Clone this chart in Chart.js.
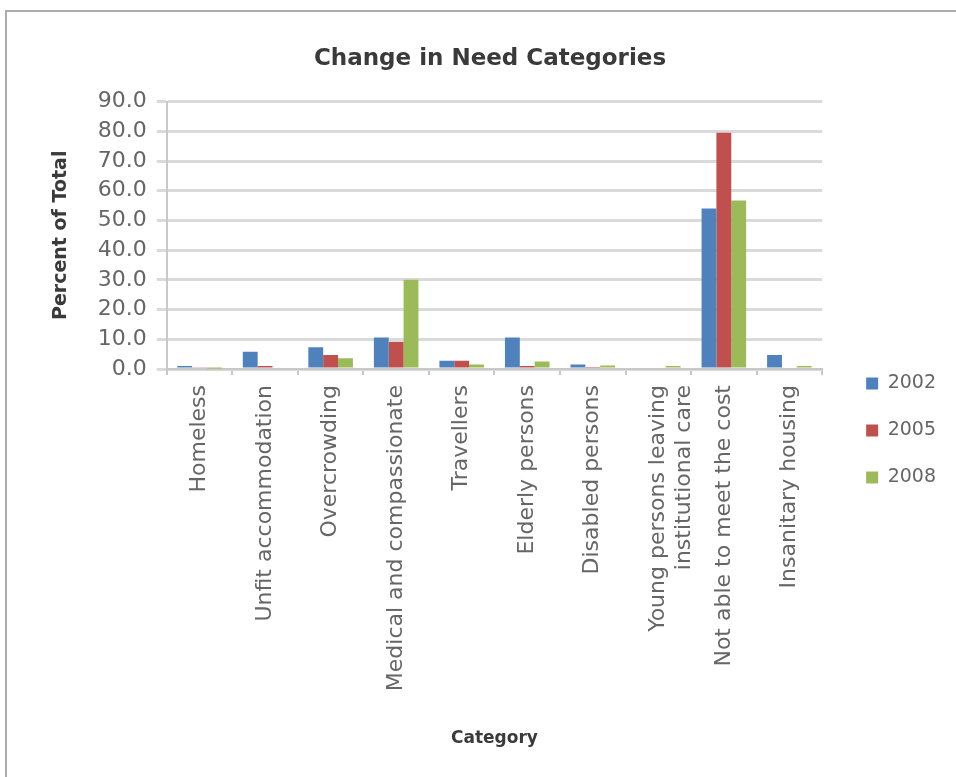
<!DOCTYPE html>
<html>
<head>
<meta charset="utf-8">
<title>Change in Need Categories</title>
<script src="https://cdn.jsdelivr.net/npm/chart.js@4.4.1/dist/chart.umd.min.js"></script>
<style>
    html, body {
        margin: 0;
        padding: 0;
        background: #ffffff;
        overflow: hidden;
    }
    #chartBox {
        position: absolute;
        left: 0;
        top: 0;
        width: 956px;
        height: 777px;
    }
    /* 外框線 */
    .edge {
        position: absolute;
        background: #ababab;
    }
    #edgeTop { left: 5px; top: 10px; width: 951px; height: 2px; }
    #edgeLeft { left: 5px; top: 10px; width: 2px; height: 767px; }
</style>
</head>
<body>
<div id="chartBox"><canvas id="needChart"></canvas></div>
<div class="edge" id="edgeTop"></div>
<div class="edge" id="edgeLeft"></div>
<script>
// 需求類別
const categories = [
    'Homeless',
    'Unfit accommodation',
    'Overcrowding',
    'Medical and compassionate',
    'Travellers',
    'Elderly persons',
    'Disabled persons',
    ['Young persons leaving', 'institutional care'],
    'Not able to meet the cost',
    'Insanitary housing'
];

// 各年度百分比
const years = ['2002', '2005', '2008'];
const values2002 = [1.0, 5.8, 7.3, 10.6, 2.8, 10.6, 1.5, 0.0, 54.0, 4.7];
const values2005 = [0.6, 1.0, 4.7, 9.2, 2.8, 1.0, 0.7, 0.0, 79.5, 0.5];
const values2008 = [0.2, 0.5, 3.6, 30.0, 1.5, 2.5, 1.2, 1.0, 56.7, 1.0];

// y 軸刻度
const yTicks = [0, 10, 20, 30, 40, 50, 60, 70, 80, 90];

const barColors = ['#4f81bd', '#c0504d', '#9bbb59'];
const textGray = '#666666';
const fontName = 'DejaVu Sans';

// 圖例往下、往右挪一點，對齊圖表右側中段
const legendOffset = {
    id: 'legendOffset',
    afterLayout(chart) {
        const lg = chart.legend;
        if (!lg) return;
        lg.top += 56;
        lg.bottom += 56;
        lg.left += 16;
        lg.right += 16;
    }
};

const ctx = document.getElementById('needChart').getContext('2d');
new Chart(ctx, {
    type: 'bar',
    data: {
        labels: categories,
        datasets: [values2002, values2005, values2008].map((vals, i) => ({
            label: years[i],
            data: vals,
            backgroundColor: barColors[i],
            borderWidth: 0,
            categoryPercentage: 0.68,
            barPercentage: 1.0
        }))
    },
    plugins: [legendOffset],
    options: {
        responsive: true,
        maintainAspectRatio: false,
        animation: false,
        layout: {
            padding: { left: 50, right: 26, top: 0, bottom: 28 }
        },
        plugins: {
            title: {
                display: true,
                text: 'Change in Need Categories',
                color: '#3a3a3a',
                font: { family: fontName, size: 23, weight: 'bold' },
                padding: { top: 45, bottom: 29 }
            },
            legend: {
                position: 'right',
                align: 'center',
                labels: {
                    color: textGray,
                    boxWidth: 12,
                    boxHeight: 12,
                    padding: 28,
                    font: { family: fontName, size: 19 }
                }
            },
            tooltip: { enabled: false }
        },
        scales: {
            x: {
                // 直排的長類別名稱需要比預設上限更高的軸
                afterFit: scale => {
                    scale.height = 380;
                },
                grid: {
                    drawOnChartArea: false,
                    offset: true,
                    color: '#c8c8c8',
                    lineWidth: 2,
                    tickLength: 6
                },
                border: { color: '#c8c8c8', width: 2 },
                ticks: {
                    minRotation: 90,
                    maxRotation: 90,
                    autoSkip: false,
                    padding: 10,
                    color: textGray,
                    font: { family: fontName, size: 22 }
                },
                title: {
                    display: true,
                    text: 'Category',
                    color: '#3a3a3a',
                    font: { family: fontName, size: 17, weight: 'bold' },
                    padding: { top: 24, bottom: 0 }
                }
            },
            y: {
                min: 0,
                max: 90,
                afterBuildTicks: axis => {
                    axis.ticks = yTicks.map(v => ({ value: v }));
                },
                grid: {
                    color: '#dadada',
                    lineWidth: 3,
                    tickLength: 10
                },
                border: { color: '#c8c8c8', width: 2 },
                ticks: {
                    color: textGray,
                    padding: 10,
                    font: { family: fontName, size: 22 },
                    callback: value => value.toFixed(1)
                },
                title: {
                    display: true,
                    text: 'Percent of Total',
                    color: '#3a3a3a',
                    font: { family: fontName, size: 19, weight: 'bold' },
                    padding: { top: 0, bottom: 15 }
                }
            }
        }
    }
});
</script>
</body>
</html>
